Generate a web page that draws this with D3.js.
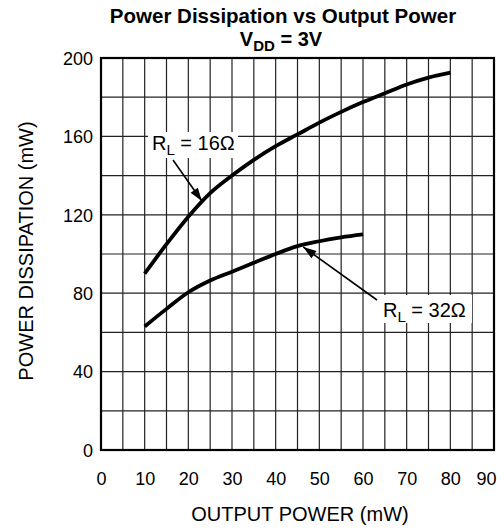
<!DOCTYPE html>
<html>
<head>
<meta charset="utf-8">
<script src="https://cdn.jsdelivr.net/npm/d3@7"></script>
<style>
  html, body { margin: 0; padding: 0; background: #fff; }
  svg { display: block; font-family: "Liberation Sans", Arial, Helvetica, sans-serif; }
</style>
</head>
<body>
<div id="chart"></div>
<script>
// ---- data ----
const outputPower16 = [10, 15, 20, 25, 30, 35, 40, 45, 50, 55, 60, 65, 70, 75, 80];
const dissipation16 = [90, 105, 119, 131, 140, 148, 155, 161, 167, 172.5, 177.5, 182, 186.5, 190, 192.5];
const outputPower32 = [10, 15, 20, 25, 30, 35, 40, 45, 50, 55, 60];
const dissipation32 = [63, 72, 80.5, 86.5, 91, 95.5, 100, 104, 106.5, 108.5, 110];
const xTicks = [0, 10, 20, 30, 40, 50, 60, 70, 80, 90];
const yTicks = [0, 40, 80, 120, 160, 200];
const xGrid = d3.range(0, 91, 5);
const yGrid = d3.range(0, 201, 20);
const annotations = [
  { label: "16", x: 23.1, y: 127 },
  { label: "32", x: 46.3, y: 103.6 }
];

const W = 504, H = 529;
const svg = d3.select("#chart").append("svg").attr("width", W).attr("height", H);

const x = d3.scaleLinear().domain([0, 90]).range([101, 494]);
const y = d3.scaleLinear().domain([0, 200]).range([450, 58]);

// grid
const g = svg.append("g");
g.selectAll("line.vx").data(xGrid).join("line")
  .attr("x1", d => x(d)).attr("x2", d => x(d))
  .attr("y1", y(0)).attr("y2", y(200))
  .attr("stroke", "#222").attr("stroke-width", 1.2);
g.selectAll("line.hy").data(yGrid).join("line")
  .attr("x1", x(0)).attr("x2", x(90))
  .attr("y1", d => y(d)).attr("y2", d => y(d))
  .attr("stroke", "#222").attr("stroke-width", 1.2);

// frame
svg.append("rect")
  .attr("x", x(0)).attr("y", y(200))
  .attr("width", x(90) - x(0)).attr("height", y(0) - y(200))
  .attr("fill", "none").attr("stroke", "#000").attr("stroke-width", 2.2);

// axes tick labels
const xAxis = d3.axisBottom(x).tickValues(xTicks).tickSize(0).tickPadding(0);
const xa = svg.append("g").attr("transform", `translate(0,${y(0)})`).call(xAxis);
xa.select(".domain").remove();
xa.selectAll("text")
  .attr("y", 35).attr("dy", 0)
  .attr("font-size", 18).attr("fill", "#000")
  .attr("font-family", "Liberation Sans, Arial, sans-serif")
  .attr("text-anchor", d => d === 90 ? "end" : "middle")
  .attr("x", d => d === 90 ? 2 : 0);

const yAxis = d3.axisLeft(y).tickValues(yTicks).tickSize(0).tickPadding(0);
const ya = svg.append("g").attr("transform", `translate(${x(0)},0)`).call(yAxis);
ya.select(".domain").remove();
ya.selectAll("text")
  .attr("x", -8).attr("dy", "0.35em")
  .attr("font-size", 18).attr("fill", "#000")
  .attr("font-family", "Liberation Sans, Arial, sans-serif");

// axis titles
svg.append("text")
  .attr("x", 300).attr("y", 521)
  .attr("text-anchor", "middle").attr("font-size", 20)
  .text("OUTPUT POWER (mW)");
svg.append("text")
  .attr("transform", "translate(33,251) rotate(-90)")
  .attr("text-anchor", "middle").attr("font-size", 20)
  .text("POWER DISSIPATION (mW)");

// title
svg.append("text")
  .attr("x", 283).attr("y", 23)
  .attr("text-anchor", "middle").attr("font-size", 20.5).attr("font-weight", "bold")
  .text("Power Dissipation vs Output Power");
const t2 = svg.append("text")
  .attr("x", 281).attr("y", 46)
  .attr("text-anchor", "middle").attr("font-size", 20).attr("font-weight", "bold");
t2.append("tspan").text("V");
t2.append("tspan").attr("dy", 5).attr("font-size", 15).text("DD");
t2.append("tspan").attr("dy", -5).text(" = 3V");

// curves
const line = d3.line().x(d => x(d[0])).y(d => y(d[1])).curve(d3.curveMonotoneX);
const s16 = outputPower16.map((v, i) => [v, dissipation16[i]]);
const s32 = outputPower32.map((v, i) => [v, dissipation32[i]]);
[s16, s32].forEach(s => {
  svg.append("path").datum(s).attr("d", line)
    .attr("fill", "none").attr("stroke", "#000").attr("stroke-width", 3.8)
    .attr("stroke-linecap", "butt").attr("stroke-linejoin", "round");
});

// annotation labels with white boxes
function label(cx, baseline, text, boxX, boxY, boxW, boxH) {
  svg.append("rect").attr("x", boxX).attr("y", boxY).attr("width", boxW).attr("height", boxH).attr("fill", "#fff");
  const t = svg.append("text").attr("x", cx).attr("y", baseline).attr("font-size", 20);
  t.append("tspan").text("R");
  t.append("tspan").attr("dy", 5).attr("font-size", 15).text("L");
  t.append("tspan").attr("dy", -5).text(" = " + text + "\u03A9");
}
label(152, 150, annotations[0].label, 148, 132, 90, 26);
label(383, 317, annotations[1].label, 377, 295, 95, 28);

// arrows
function arrow(x1, y1, tip) {
  const x2 = x(tip.x), y2 = y(tip.y);
  svg.append("line").attr("x1", x1).attr("y1", y1).attr("x2", x2).attr("y2", y2)
    .attr("stroke", "#000").attr("stroke-width", 1.6);
  const ang = Math.atan2(y2 - y1, x2 - x1);
  const len = 14, half = 0.32;
  const p = [
    [x2, y2],
    [x2 - len * Math.cos(ang - half), y2 - len * Math.sin(ang - half)],
    [x2 - len * Math.cos(ang + half), y2 - len * Math.sin(ang + half)]
  ];
  svg.append("path").attr("d", "M" + p.map(q => q.join(",")).join("L") + "Z").attr("fill", "#000");
}
arrow(173, 160, annotations[0]);
arrow(377, 300, annotations[1]);
</script>
</body>
</html>
